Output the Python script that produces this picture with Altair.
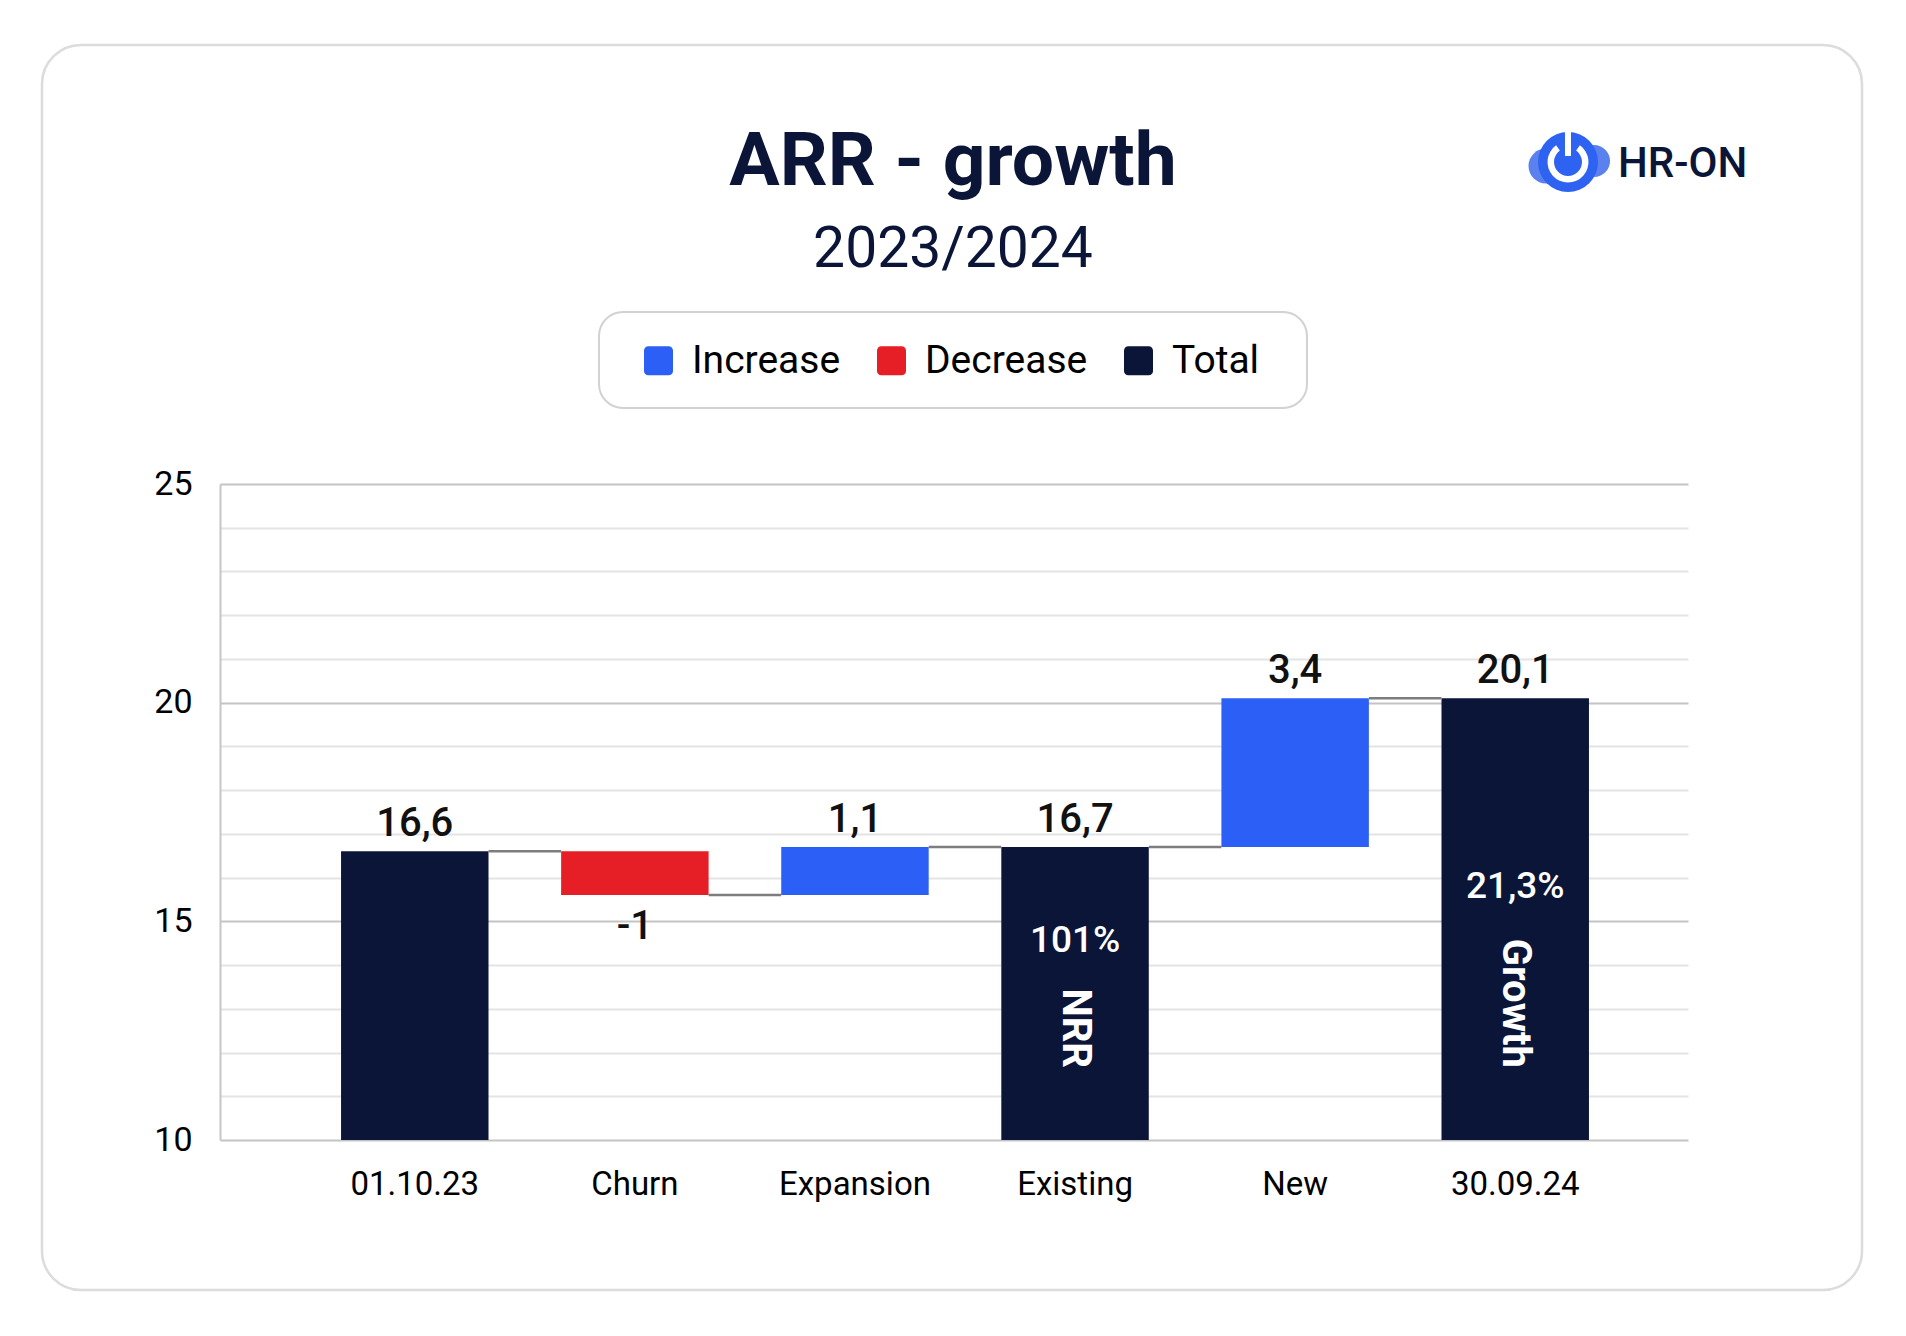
import math
import altair as alt
import pandas as pd

# ---------------- data ----------------
categories = ["01.10.23", "Churn", "Expansion", "Existing", "New", "30.09.24"]
values = [16.6, -1.0, 1.1, 16.7, 3.4, 20.1]
kinds = ["Total", "Decrease", "Increase", "Total", "Increase", "Total"]
value_labels = ["16,6", "-1", "1,1", "16,7", "3,4", "20,1"]

legend_items = ["Increase", "Decrease", "Total"]
legend_colors = ["#2b5ff5", "#e61e25", "#0a1538"]

y_tick_values = list(range(10, 26))

annotation_categories = ["Existing", "30.09.24"]
annotation_percent = ["101%", "21,3%"]
annotation_names = ["NRR", "Growth"]

title_text = "ARR - growth"
subtitle_text = "2023/2024"
brand_text = "HR-ON"

NAVY = "#0a1538"
FONT = "Roboto"

# ---------------- waterfall table ----------------
rows = []
running = 0.0
for cat, val, kind, lab in zip(categories, values, kinds, value_labels):
    if kind == "Total":
        start, end = 0.0, val
    else:
        start, end = running, round(running + val, 4)
    running = end
    rows.append(dict(cat=cat, start=start, end=end, kind=kind, label=lab,
                     top=max(start, end), bottom=min(start, end),
                     positive=bool(val >= 0)))
df = pd.DataFrame(rows)

conn = pd.DataFrame({
    "src": categories[:-1],
    "dst": categories[1:],
    "level": [r["end"] for r in rows[:-1]],
})

ann = pd.DataFrame({"cat": annotation_categories,
                    "pct": annotation_percent,
                    "name": annotation_names})

one = pd.DataFrame({"a": [0]})

# ---------------- scales ----------------
x_scale = alt.Scale(domain=categories, paddingInner=0.33, paddingOuter=0.5, align=0.55)
y_scale = alt.Scale(domain=[10, 25], nice=False, zero=False)

rounded_square = ("M-0.7,-1H0.7A0.3,0.3,0,0,1,1,-0.7V0.7A0.3,0.3,0,0,1,0.7,1"
                  "H-0.7A0.3,0.3,0,0,1,-1,0.7V-0.7A0.3,0.3,0,0,1,-0.7,-1Z")

x_axis = alt.Axis(title=None, labelFontSize=33, labelFont=FONT, labelColor="#000",
                  labelPadding=28, domain=False, ticks=False, tickSize=0, labelAngle=0,
                  grid=False)
y_axis = alt.Axis(title=None, values=y_tick_values,
                  labelExpr="datum.value % 5 === 0 ? datum.label : ''",
                  grid=True,
                  gridColor=alt.condition("datum.value % 5 === 0", alt.value("#c4c4c4"), alt.value("#e4e4e4")),
                  gridWidth=1.8,
                  domain=True, domainColor="#c6c6c6", domainWidth=2,
                  ticks=False, tickSize=0,
                  labelFontSize=34, labelFont=FONT, labelColor="#000", labelPadding=28)

# ---------------- decorations ----------------
card = alt.Chart(one).mark_rect(cornerRadius=39, fillOpacity=0, stroke="#dcdcdc",
                                strokeWidth=2.5).encode(
    x=alt.value(-178), x2=alt.value(1642), y=alt.value(-439), y2=alt.value(806))

legend_box = alt.Chart(one).mark_rect(cornerRadius=24, fillOpacity=0, stroke="#d2d2d2",
                                      strokeWidth=2).encode(
    x=alt.value(379), x2=alt.value(1087), y=alt.value(-172), y2=alt.value(-76))

title = alt.Chart(one).mark_text(text=title_text, font=FONT, fontSize=75, fontWeight="bold",
                                 color=NAVY, align="center", baseline="alphabetic").encode(
    x=alt.value(733), y=alt.value(-299))
subtitle = alt.Chart(one).mark_text(text=subtitle_text, font=FONT, fontSize=57, fontWeight="normal",
                                    color=NAVY, align="center", baseline="alphabetic").encode(
    x=alt.value(733), y=alt.value(-217))

lobe_l = alt.Chart(one).mark_circle(size=1225, color="#5a81ee", opacity=1).encode(
    x=alt.value(1326), y=alt.value(-318))
lobe_r = alt.Chart(one).mark_circle(size=1024, color="#5a81ee", opacity=1).encode(
    x=alt.value(1374), y=alt.value(-323))
logo_main = alt.Chart(one).mark_circle(size=3600, color="#2e62f0", opacity=1).encode(
    x=alt.value(1348), y=alt.value(-322))
logo_ring = alt.Chart(one).mark_arc(radius=20.5, radius2=14, theta=0.62,
                                    theta2=2 * math.pi - 0.62, color="white").encode(
    x=alt.value(1348), y=alt.value(-322))
logo_bar = alt.Chart(one).mark_rule(color="white", strokeWidth=6).encode(
    x=alt.value(1348), y=alt.value(-353), y2=alt.value(-328))
logo_text = alt.Chart(one).mark_text(text=brand_text, font=FONT, fontSize=42, fontWeight=500,
                                     color=NAVY, align="left", baseline="alphabetic").encode(
    x=alt.value(1398), y=alt.value(-307))

# ---------------- data marks ----------------
bars = alt.Chart(df).mark_bar(clip=True).encode(
    x=alt.X("cat:N", scale=x_scale, axis=x_axis),
    y=alt.Y("start:Q", scale=y_scale, axis=y_axis),
    y2="end:Q",
    color=alt.Color("kind:N",
                    scale=alt.Scale(domain=legend_items, range=legend_colors),
                    legend=alt.Legend(orient="none", legendX=419, legendY=-143,
                                      direction="horizontal", title=None,
                                      symbolType=rounded_square, symbolSize=841,
                                      symbolStrokeWidth=0, symbolOpacity=1,
                                      labelFontSize=39, labelFont=FONT, labelColor="#000",
                                      labelOffset=14, columnPadding=31, padding=0,
                                      labelLimit=400)),
)

connectors = alt.Chart(conn).mark_rule(color="#7d7d7d", strokeWidth=2.5).encode(
    x=alt.X("src:N", bandPosition=1),
    x2=alt.X2("dst", bandPosition=0),
    y=alt.Y("level:Q"),
)

pos_labels = alt.Chart(df).transform_filter("datum.positive").mark_text(
    dy=-15, baseline="alphabetic", align="center", fontSize=40, fontWeight=500,
    font=FONT, color="#111").encode(x="cat:N", y="top:Q", text="label:N")

neg_labels = alt.Chart(df).transform_filter("!datum.positive").mark_text(
    dy=44, baseline="alphabetic", align="center", fontSize=40, fontWeight=500,
    font=FONT, color="#111").encode(x="cat:N", y="bottom:Q", text="label:N")

pct_1 = alt.Chart(ann).transform_filter(f"datum.cat === '{annotation_categories[0]}'").mark_text(
    baseline="alphabetic", align="center", fontSize=37, fontWeight=500, font=FONT,
    color="white").encode(x="cat:N", y=alt.value(468), text="pct:N")
pct_2 = alt.Chart(ann).transform_filter(f"datum.cat === '{annotation_categories[1]}'").mark_text(
    baseline="alphabetic", align="center", fontSize=37, fontWeight=500, font=FONT,
    color="white").encode(x="cat:N", y=alt.value(414), text="pct:N")
names = alt.Chart(ann).mark_text(
    angle=90, baseline="middle", align="right", fontSize=40, fontWeight="bold", font=FONT,
    color="white").encode(x="cat:N", y=alt.value(584), text="name:N")

chart = alt.layer(
    card, legend_box, title, subtitle, lobe_l, lobe_r, logo_main, logo_ring, logo_bar, logo_text,
    bars, connectors, pos_labels, neg_labels, pct_1, pct_2, names,
).properties(
    width=1468, height=656,
    padding={"left": 220, "top": 484, "right": 218, "bottom": 196},
    autosize=alt.AutoSizeParams(type="none"),
    background="white",
).configure_view(stroke=None)

chart.save("out.html", embed_options={"renderer": "svg", "actions": False})
